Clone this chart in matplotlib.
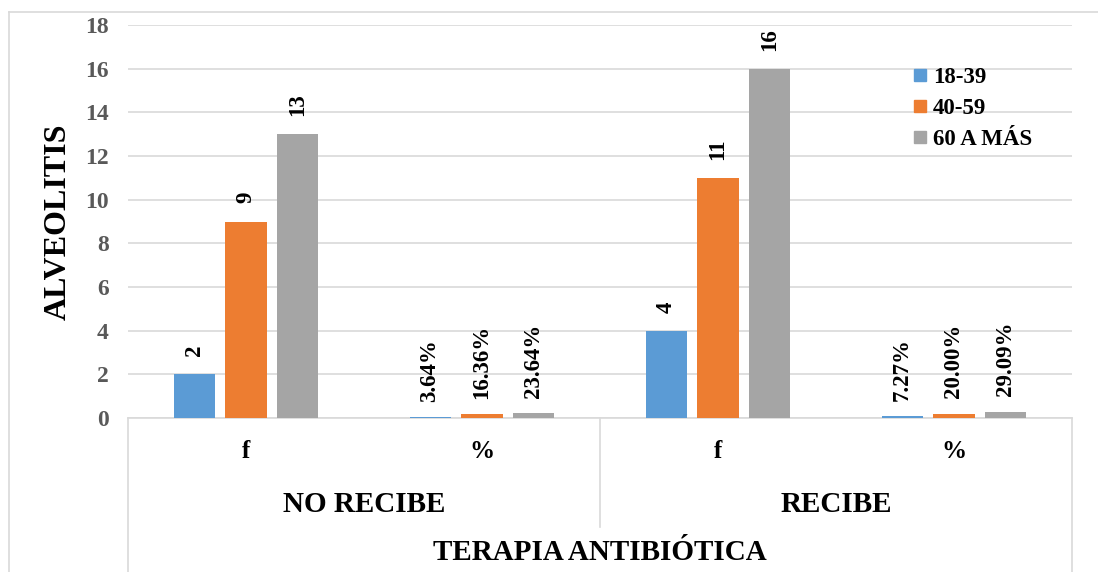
import numpy as np
import matplotlib
matplotlib.use("Agg")
import matplotlib.pyplot as plt
from matplotlib.lines import Line2D

plt.rcParams["font.family"] = ["Liberation Serif", "DejaVu Serif"]
plt.rcParams["font.weight"] = "bold"

# -----------------------------
# Data
# -----------------------------
groups = ["NO RECIBE", "RECIBE"]
sub_labels = ["f", "%", "f", "%"]
is_pct = [False, True, False, True]
series_names = ["18-39", "40-59", "60 A MÁS"]
s_18_39 = [2, 0.0364, 4, 0.0727]
s_40_59 = [9, 0.1636, 11, 0.2000]
s_60_mas = [13, 0.2364, 16, 0.2909]
colors = ["#5B9BD5", "#ED7D31", "#A5A5A5"]

W, H = 1098, 572
fig = plt.figure(figsize=(W / 100, H / 100), dpi=100)

def fx(px):
    return px / W

def fy(py):
    return 1 - py / H

ax_l, ax_r, ax_t, ax_b = 128, 1072, 25, 418
ax = fig.add_axes([fx(ax_l), fy(ax_b), fx(ax_r - ax_l), fy(ax_t) - fy(ax_b)])

x = np.arange(len(sub_labels))
step, bw = 0.22, 0.174
for i, (vals, name, c) in enumerate(zip([s_18_39, s_40_59, s_60_mas], series_names, colors)):
    pos = x + (i - 1) * step
    ax.bar(pos, vals, width=bw, color=c, label=name, zorder=3)
    for p, v, pct in zip(pos, vals, is_pct):
        txt = f"{v * 100:.2f}%" if pct else f"{v:g}"
        off = 11 if pct else 13
        ax.annotate(txt, (p, v), xytext=(0, off), textcoords="offset points",
                    rotation=90, ha="center", va="bottom",
                    fontsize=16.5, fontweight="bold", color="black")

ax.set_xlim(-0.5, len(sub_labels) - 0.5)
ax.set_ylim(0, 18)
ax.set_yticks(np.arange(0, 19, 2))
ax.tick_params(axis="y", length=0, pad=14, labelsize=17, labelcolor="#595959")
ax.tick_params(axis="x", length=0, labelbottom=False)
for lab in ax.get_yticklabels():
    lab.set_fontweight("bold")
ax.grid(axis="y", color="#D9D9D9", linewidth=1.2, zorder=0)
for s in ["top", "right", "left"]:
    ax.spines[s].set_visible(False)
ax.spines["bottom"].set_color("#D9D9D9")
ax.spines["bottom"].set_linewidth(1.2)

ax.set_ylabel("ALVEOLITIS", fontsize=23, fontweight="bold", color="black")
ax.yaxis.set_label_coords((73 - ax_l) / (ax_r - ax_l), 0.5)

# legend
handles = [Line2D([], [], marker="s", linestyle="none", markersize=9,
                  markerfacecolor=c, markeredgecolor=c) for c in colors]
fig.legend(handles, series_names, loc="upper left",
           bbox_to_anchor=(fx(902), fy(58)), frameon=False,
           prop={"family": "Liberation Serif", "weight": "bold", "size": 16.5},
           handletextpad=0.15, labelspacing=0.42, handlelength=0.8,
           borderaxespad=0)

# multi-level category axis
lc = "#D9D9D9"
def fline(x0, y0, x1, y1):
    fig.add_artist(Line2D([fx(x0), fx(x1)], [fy(y0), fy(y1)], color=lc, linewidth=1.2))

fline(ax_l, ax_b, ax_l, H)
fline(ax_r, ax_b, ax_r, H)
fline(600, ax_b, 600, 527)
# chart border
fline(9, 12, 9, H)
fline(9, 12, W, 12)

cat_w = (ax_r - ax_l) / len(sub_labels)
for i, lab in enumerate(sub_labels):
    fig.text(fx(ax_l + cat_w * (i + 0.5)), fy(452), lab, ha="center", va="center",
             fontsize=18, fontweight="bold", color="black")
for g, lab in enumerate(groups):
    fig.text(fx(ax_l + cat_w * (2 * g + 1)), fy(505), lab, ha="center", va="center",
             fontsize=21, fontweight="bold", color="black")
fig.text(fx((ax_l + ax_r) / 2), fy(553), "TERAPIA ANTIBIÓTICA", ha="center", va="center",
         fontsize=21, fontweight="bold", color="black")

fig.savefig("out.png", dpi=100)
